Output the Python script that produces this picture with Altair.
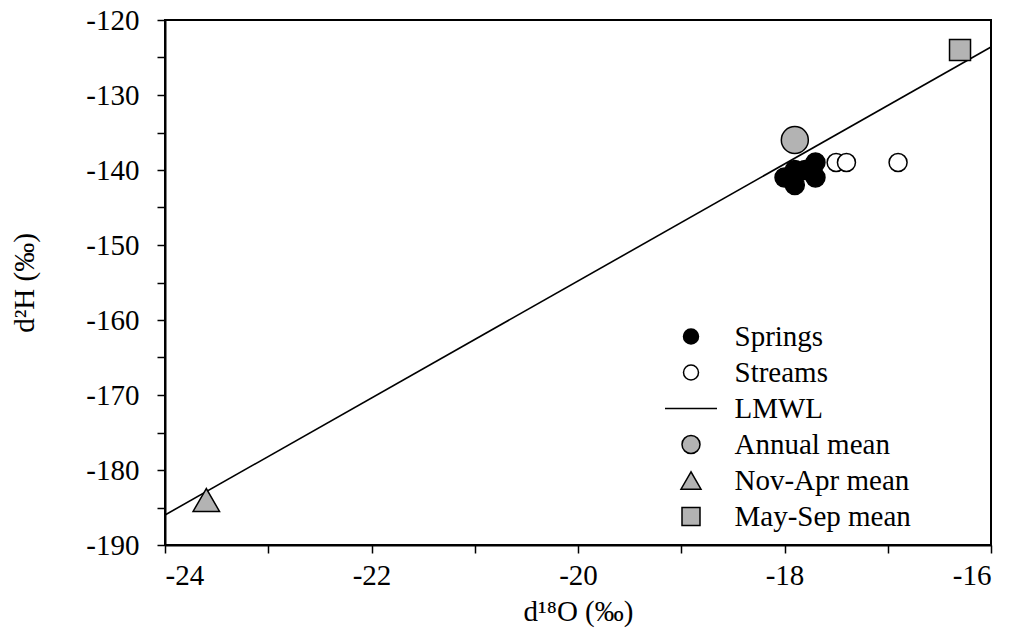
import altair as alt
import pandas as pd

# ---- data ----
springs_x = [-18.0, -17.9, -17.9, -17.8, -17.7, -17.7]
springs_y = [-141, -142, -140, -140, -139, -141]
streams_x = [-17.5, -17.4, -16.9]
streams_y = [-139, -139, -139]
annual_x = [-17.9]
annual_y = [-136]
novapr_x = [-23.6]
novapr_y = [-184]
maysep_x = [-16.3]
maysep_y = [-124]
lmwl_x = [-24, -16]
lmwl_y = [-186.0, -123.6]

series = ["Springs", "Streams", "LMWL", "Annual mean", "Nov-Apr mean", "May-Sep mean"]
x_ticks = list(range(-24, -15))          # -24 .. -16, every 1
y_ticks = list(range(-190, -119, 5))     # -190 .. -120, every 5

# ---- styles ----
FONT = "Liberation Serif"
GRAY = "#b3b3b3"
shapes = ["circle", "circle", "stroke", "circle", "triangle-up", "square"]
fills = ["black", "white", "transparent", GRAY, GRAY, GRAY]
strokes = ["black"] * 6
chart_sizes = {"Springs": 361, "Streams": 324, "Annual mean": 729,
               "Nov-Apr mean": 700, "May-Sep mean": 441}
legend_sizes = [225, 225, 2704, 324, 400, 324]

size_expr = "(" + "".join(f"datum.value === '{s}' ? {v} : " for s, v in zip(series, legend_sizes)) + "225)"

rows = []
for name, xs, ys in [("Springs", springs_x, springs_y), ("Streams", streams_x, streams_y),
                     ("Annual mean", annual_x, annual_y), ("Nov-Apr mean", novapr_x, novapr_y),
                     ("May-Sep mean", maysep_x, maysep_y)]:
    for a, b in zip(xs, ys):
        rows.append({"series": name, "x": a, "y": b})
pts = pd.DataFrame(rows)
line_df = pd.DataFrame({"x": lmwl_x, "y": lmwl_y})

x_enc = alt.X("x:Q", scale=alt.Scale(domain=[-24, -16], nice=False, zero=False),
              axis=alt.Axis(values=x_ticks, title="d¹⁸O (‰)",
                            labelExpr="datum.value % 2 === 0 ? '' + datum.value : ''",
                            labelPadding=8, titlePadding=7))
y_enc = alt.Y("y:Q", scale=alt.Scale(domain=[-190, -120], nice=False, zero=False),
              axis=alt.Axis(values=y_ticks, title="d²H (‰)",
                            labelExpr="datum.value % 10 === 0 ? '' + datum.value : ''",
                            labelPadding=18, titlePadding=46))

legend = alt.Legend(
    orient="none", legendX=499, legendY=302, title=None,
    labelFont=FONT, labelFontSize=29, labelColor="black", labelLimit=400,
    labelOffset=29, symbolOffset=12.5, rowPadding=6, padding=0,
    symbolSize=alt.ExprRef(expr=size_expr),
    symbolStrokeWidth=1.5, symbolOpacity=1,
)

shape_enc = alt.Shape("series:N", scale=alt.Scale(domain=series, range=shapes), legend=legend)
fill_enc = alt.Fill("series:N", scale=alt.Scale(domain=series, range=fills), legend=legend)
stroke_enc = alt.Stroke("series:N", scale=alt.Scale(domain=series, range=strokes), legend=legend)

line = alt.Chart(line_df).mark_line(color="black", strokeWidth=1.6).encode(x=x_enc, y=y_enc)

point_layers = []
for name, sz in chart_sizes.items():
    point_layers.append(
        alt.Chart(pts).transform_filter(alt.datum.series == name)
        .mark_point(filled=True, strokeWidth=1.5, opacity=1)
        .encode(x=x_enc, y=y_enc, shape=shape_enc, fill=fill_enc, stroke=stroke_enc,
                size=alt.value(sz))
    )

chart = alt.layer(line, *point_layers).properties(
    width=826, height=525,
    autosize=alt.AutoSizeParams(type="none"),
    padding={"left": 165, "top": 20, "right": 28, "bottom": 97},
).configure_view(
    stroke="black", strokeWidth=2
).configure_axis(
    labelFont=FONT, labelFontSize=29, labelColor="black",
    titleFont=FONT, titleFontSize=29, titleColor="black", titleFontWeight="normal",
    domainColor="black", domainWidth=2, tickColor="black", tickWidth=1.5, tickSize=8,
    grid=False,
)

chart.save("out.html", embed_options={"renderer": "svg", "actions": False})
